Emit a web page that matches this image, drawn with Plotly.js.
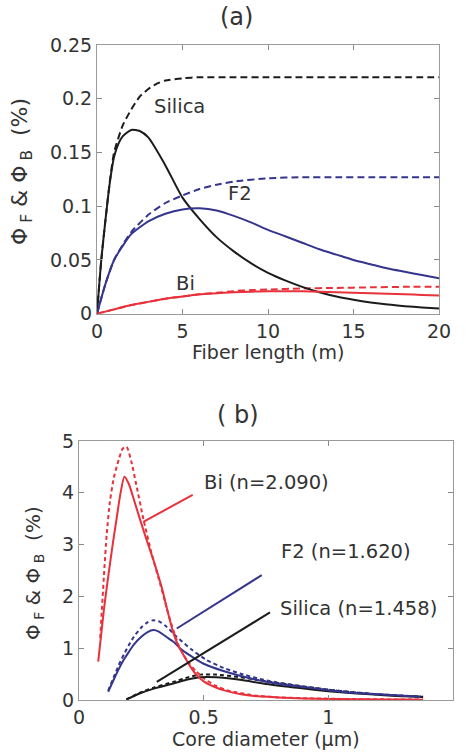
<!DOCTYPE html>
<html>
<head>
<meta charset="utf-8">
<script src="https://cdn.plot.ly/plotly-3.0.1.min.js"></script>
<style>html,body{margin:0;padding:0;background:#fff;}#chart{width:466px;height:753px;}</style>
</head>
<body>
<div id="chart"></div>
<script>
// ---------- Panel (a): Phi vs fiber length ----------
const aSilicaSolidX = [0,0.25,0.5,0.75,1,1.25,1.5,2,2.5,3,4,5,6,7,8,9,10,11,12,13,14,15,16,17,18,19,20];
const aSilicaSolidY = [0,0.05,0.088,0.122,0.146,0.158,0.165,0.171,0.17,0.164,0.138,0.108,0.088,0.071,0.058,0.047,0.038,0.031,0.025,0.02,0.016,0.013,0.0105,0.0085,0.007,0.0058,0.0048];
const aSilicaDashX = [0,0.25,0.5,0.75,1,1.5,2,2.5,3,3.5,4,5,6,8,10,12,14,16,18,20];
const aSilicaDashY = [0,0.05,0.088,0.123,0.15,0.175,0.19,0.202,0.209,0.214,0.217,0.219,0.22,0.22,0.22,0.22,0.22,0.22,0.22,0.22];
const aF2SolidX = [0,0.5,1,1.5,2,3,4,5,6,7,8,9,10,11,12,13,14,15,16,17,18,19,20];
const aF2SolidY = [0,0.028,0.05,0.063,0.074,0.086,0.093,0.097,0.098,0.096,0.091,0.085,0.078,0.072,0.066,0.06,0.055,0.05,0.046,0.042,0.039,0.036,0.033];
const aF2DashX = [0,0.5,1,1.5,2,3,4,5,6,7,8,10,12,14,16,18,20];
const aF2DashY = [0,0.028,0.05,0.064,0.076,0.092,0.103,0.11,0.116,0.12,0.123,0.126,0.127,0.127,0.127,0.127,0.127];
const aBiSolidX = [0,1,2,3,4,5,6,7,8,9,10,11,12,13,14,15,16,17,18,19,20];
const aBiSolidY = [0,0.004,0.008,0.011,0.014,0.016,0.018,0.019,0.02,0.0205,0.0208,0.021,0.0208,0.0205,0.02,0.0196,0.019,0.0185,0.018,0.0175,0.017];
const aBiDashX = [0,1,2,3,4,5,6,7,8,9,10,12,14,16,18,20];
const aBiDashY = [0,0.004,0.008,0.011,0.014,0.016,0.018,0.0195,0.021,0.022,0.0225,0.0235,0.024,0.0245,0.025,0.025];
const aXTicks = [0,5,10,15,20];
const aYTicks = [0,0.05,0.1,0.15,0.2,0.25];
const aLabels = ["Silica","F2","Bi"];
const aLabelX = [4.85,8.36,5.15];
const aLabelY = [0.193,0.112,0.0285];

// ---------- Panel (b): Phi vs core diameter ----------
const bBiSolidX = [0.077,0.1,0.118,0.135,0.151,0.165,0.182,0.2,0.22,0.24,0.265,0.3,0.332,0.355,0.378,0.4,0.418,0.45,0.472,0.5,0.54,0.579,0.65,0.72,0.8,0.9,1.0,1.1,1.2,1.3,1.38];
const bBiSolidY = [0.74,1.75,2.41,3.0,3.51,3.95,4.31,4.17,3.87,3.56,3.18,2.68,2.17,1.72,1.3,1.03,0.88,0.62,0.48,0.36,0.26,0.19,0.11,0.07,0.05,0.03,0.02,0.015,0.01,0.008,0.006];
const bBiDashX = [0.085,0.1,0.111,0.124,0.14,0.16,0.175,0.191,0.21,0.23,0.258,0.29,0.325,0.345,0.365,0.4,0.432,0.47,0.5,0.55,0.6,0.7,0.8,0.9,1.0,1.1,1.2,1.3,1.38];
const bBiDashY = [1.2,2.4,3.19,3.83,4.3,4.65,4.85,4.89,4.6,4.15,3.5,2.85,2.25,1.9,1.55,1.05,0.77,0.55,0.42,0.27,0.18,0.09,0.05,0.035,0.025,0.018,0.013,0.01,0.008];
const bF2SolidX = [0.117,0.14,0.16,0.18,0.2,0.22,0.25,0.275,0.298,0.32,0.35,0.38,0.405,0.445,0.5,0.579,0.686,0.8,0.886,1.0,1.1,1.2,1.3,1.37];
const bF2SolidY = [0.16,0.4,0.6,0.78,0.93,1.07,1.22,1.31,1.35,1.32,1.22,1.12,1.0,0.86,0.7,0.56,0.42,0.31,0.26,0.19,0.14,0.11,0.08,0.065];
const bF2DashX = [0.117,0.14,0.16,0.18,0.2,0.22,0.25,0.275,0.298,0.32,0.35,0.392,0.45,0.512,0.58,0.646,0.75,0.886,1.0,1.1,1.2,1.3,1.37];
const bF2DashY = [0.18,0.45,0.68,0.88,1.06,1.22,1.4,1.5,1.54,1.52,1.42,1.22,0.98,0.77,0.62,0.51,0.38,0.27,0.2,0.15,0.11,0.085,0.07];
const bSilicaSolidX = [0.19,0.245,0.3,0.378,0.44,0.485,0.55,0.646,0.75,0.886,1.0,1.1,1.2,1.3,1.38];
const bSilicaSolidY = [0.01,0.13,0.22,0.32,0.4,0.44,0.44,0.39,0.31,0.23,0.17,0.13,0.1,0.07,0.06];
const bSilicaDashX = [0.19,0.245,0.3,0.378,0.44,0.485,0.55,0.646,0.75,0.886,1.0,1.1,1.2,1.3,1.38];
const bSilicaDashY = [0.01,0.14,0.24,0.35,0.44,0.49,0.49,0.44,0.36,0.27,0.2,0.15,0.11,0.08,0.065];
const bXTicks = [0,0.5,1,1.5];
const bYTicks = [0,1,2,3,4,5];
const bLabels = ["Bi (n=2.090)","F2 (n=1.620)","Silica (n=1.458)"];
const bLabelX = [0.493,0.802,0.798];
const bLabelY = [4.19,2.86,1.76];
// leader lines: start (x0,y0) -> end (x1,y1)
const bLeadX0 = [0.258,0.392,0.312];
const bLeadY0 = [3.44,1.38,0.35];
const bLeadX1 = [0.456,0.733,0.766];
const bLeadY1 = [3.96,2.41,1.69];

// ---------- styling ----------
const RED = '#e8313b', BLUE = '#34358c', BLACK = '#1c1c1c';
const FONT = 'DejaVu Sans, Liberation Sans, Arial, sans-serif';
const TXT = '#333333';

function line(x, y, color, dash, xa, ya) {
  return {x: x, y: y, type: 'scatter', mode: 'lines', xaxis: xa, yaxis: ya,
    line: {color: color, width: 2, dash: dash, shape: 'spline', smoothing: 0.6},
    hoverinfo: 'skip', showlegend: false};
}
const dashA = '7px,4px';
const dashB = '4px,3px';

const traces = [
  line(aSilicaDashX, aSilicaDashY, BLACK, dashA, 'x', 'y'),
  line(aF2DashX, aF2DashY, BLUE, dashA, 'x', 'y'),
  line(aBiDashX, aBiDashY, RED, dashA, 'x', 'y'),
  line(aSilicaSolidX, aSilicaSolidY, BLACK, 'solid', 'x', 'y'),
  line(aF2SolidX, aF2SolidY, BLUE, 'solid', 'x', 'y'),
  line(aBiSolidX, aBiSolidY, RED, 'solid', 'x', 'y'),
  line(bSilicaDashX, bSilicaDashY, BLACK, dashB, 'x2', 'y2'),
  line(bF2DashX, bF2DashY, BLUE, dashB, 'x2', 'y2'),
  line(bBiDashX, bBiDashY, RED, dashB, 'x2', 'y2'),
  line(bSilicaSolidX, bSilicaSolidY, BLACK, 'solid', 'x2', 'y2'),
  line(bF2SolidX, bF2SolidY, BLUE, 'solid', 'x2', 'y2'),
  line(bBiSolidX, bBiSolidY, RED, 'solid', 'x2', 'y2')
];

const W = 466, H = 753;
function ax(dom, range, ticks, anchor) {
  return {domain: dom, range: range, anchor: anchor, tickvals: ticks,
    ticktext: ticks.map(String), ticks: 'inside', ticklen: 5, tickcolor: '#8a8a8a',
    showline: true, linecolor: '#9a9a9a', linewidth: 1, mirror: 'ticks',
    showgrid: false, zeroline: false, automargin: false, fixedrange: true,
    tickfont: {family: FONT, size: 19, color: TXT}};
}

const annotations = [];
function paperText(text, px, py, size, angle) {
  annotations.push({text: text, xref: 'paper', yref: 'paper', x: px / W, y: 1 - py / H,
    xanchor: 'center', yanchor: 'middle', showarrow: false, textangle: angle || 0,
    font: {family: FONT, size: size, color: TXT}});
}
paperText('(a)', 237, 17, 24);
paperText('( b)', 238, 415, 24);
paperText('Fiber length (m)', 268, 352, 19);
paperText('Core diameter (μm)', 266, 739, 19);
paperText('Φ<sub> F</sub> &amp; Φ<sub> B</sub>&nbsp; (%)', 21, 172, 22, -90);
paperText('Φ<sub> F</sub> &amp; Φ<sub> B</sub>&nbsp; (%)', 34, 573, 20, -90);

aLabels.forEach((t, i) => annotations.push({text: t, x: aLabelX[i], y: aLabelY[i], xref: 'x', yref: 'y',
  showarrow: false, xanchor: 'center', yanchor: 'middle', font: {family: FONT, size: 19.5, color: TXT}}));
bLabels.forEach((t, i) => annotations.push({text: t, x: bLabelX[i], y: bLabelY[i], xref: 'x2', yref: 'y2',
  showarrow: false, xanchor: 'left', yanchor: 'middle', font: {family: FONT, size: 19.5, color: TXT}}));

const leadColors = [RED, BLUE, BLACK];
const shapes = bLeadX0.map((v, i) => ({type: 'line', xref: 'x2', yref: 'y2',
  x0: v, y0: bLeadY0[i], x1: bLeadX1[i], y1: bLeadY1[i],
  line: {color: leadColors[i], width: 2}}));

const layout = {
  width: W, height: H,
  margin: {l: 0, r: 0, t: 0, b: 0},
  paper_bgcolor: '#ffffff', plot_bgcolor: '#ffffff',
  showlegend: false,
  xaxis: ax([97 / W, 439 / W], [0, 20], aXTicks, 'y'),
  yaxis: ax([1 - 313.7 / H, 1 - 45 / H], [0, 0.25], aYTicks, 'x'),
  xaxis2: ax([79 / W, 453 / W], [0, 1.5], bXTicks, 'y2'),
  yaxis2: ax([1 - 700 / H, 1 - 441 / H], [0, 5], bYTicks, 'x2'),
  annotations: annotations,
  shapes: shapes
};

Plotly.newPlot('chart', traces, layout, {staticPlot: true, displayModeBar: false});
</script>
</body>
</html>
